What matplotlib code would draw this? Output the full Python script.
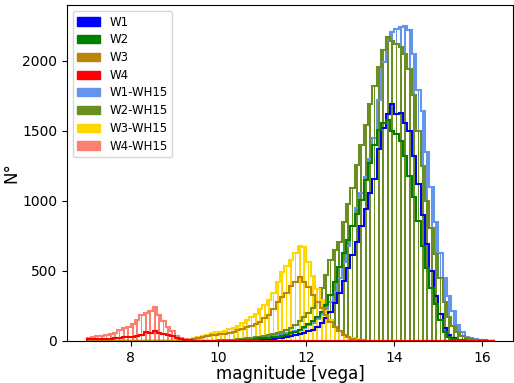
import matplotlib
matplotlib.use('Agg')
import matplotlib.pyplot as plt
from matplotlib.patches import Patch
import numpy as np

# common binning (0.1 mag bins from 7.0 to 16.3)
bin_lo, bin_hi, bin_w = 7.0, 16.3, 0.1

# counts per bin, each list starts at the given magnitude
w1_start = 10.7
w1 = [2, 4, 6, 8, 10, 13, 17, 22, 28, 35, 42, 50, 58, 68, 80, 100, 125, 160, 205,
      270, 345, 430, 520, 610, 710, 820, 940, 1060, 1160, 1370, 1520, 1620, 1690,
      1620, 1630, 1560, 1500, 1320, 1120, 900, 690, 500, 320, 190, 90, 40, 18, 8, 4]

w2_start = 10.4
w2 = [2, 4, 6, 9, 13, 17, 20, 23, 26, 30, 36, 44, 54, 65, 80, 98, 118, 140, 170,
      205, 255, 330, 420, 530, 630, 720, 820, 910, 1010, 1150, 1270, 1400, 1510,
      1560, 1580, 1500, 1475, 1430, 1320, 1180, 1030, 860, 680, 520, 380, 260, 150,
      65, 30, 16, 8, 4]

w3_start = 9.3
w3 = [5, 10, 18, 25, 32, 40, 45, 48, 52, 56, 65, 76, 85, 97, 108, 122, 138, 160,
      185, 230, 280, 315, 345, 390, 420, 455, 420, 385, 330, 280, 235, 186, 135,
      100, 68, 45, 28, 16, 8, 4, 2]

w4_start = 7.0
w4 = [10, 11, 12, 13, 14, 16, 19, 22, 25, 28, 31, 34, 40, 60, 55, 72, 55, 48, 40,
      32, 24, 14, 7, 3, 1]

w1h_start = 10.4
w1h = [3, 5, 7, 10, 13, 17, 21, 26, 32, 40, 47, 53, 60, 67, 80, 95, 110, 128, 155,
       190, 225, 280, 350, 450, 560, 680, 820, 950, 1060, 1170, 1300, 1450, 1720,
       1990, 2150, 2210, 2230, 2240, 2250, 2220, 2050, 1790, 1640, 1350, 1100, 850,
       630, 450, 320, 210, 115, 60, 30, 18, 10, 6, 3, 1]

w2h_start = 10.0
w2h = [3, 4, 6, 8, 10, 13, 17, 21, 26, 31, 36, 42, 48, 55, 65, 78, 95, 115, 140,
       170, 200, 235, 275, 380, 470, 580, 650, 710, 850, 980, 1090, 1260, 1400,
       1540, 1690, 1820, 1960, 2080, 2170, 2140, 2120, 2100, 2050, 1940, 1760, 1500,
       1250, 1000, 810, 620, 450, 280, 170, 105, 65, 38, 22, 13, 9, 6, 4, 2, 1]

w3h_start = 9.2
w3h = [5, 12, 20, 30, 38, 45, 55, 60, 66, 72, 82, 92, 108, 125, 148, 170, 195, 225,
       255, 290, 340, 420, 490, 535, 580, 630, 675, 670, 560, 460, 370, 290, 210,
       150, 100, 68, 45, 30, 18, 10, 5, 2]

w4h_start = 7.0
w4h = [22, 28, 32, 38, 44, 50, 56, 75, 92, 100, 118, 150, 185, 200, 215, 240, 185,
       140, 100, 70, 38, 20, 10, 6, 3]

labels = ['W1', 'W2', 'W3', 'W4', 'W1-WH15', 'W2-WH15', 'W3-WH15', 'W4-WH15']
colors = ['blue', 'green', 'darkgoldenrod', 'red',
          'cornflowerblue', 'olivedrab', 'gold', 'salmon']

edges = np.round(np.arange(bin_lo, bin_hi + bin_w / 2, bin_w), 2)
centers = edges[:-1] + bin_w / 2


def full_counts(start, vals):
    out = np.zeros(len(centers))
    i0 = int(round((start - bin_lo) / bin_w))
    out[i0:i0 + len(vals)] = vals
    return out


series = [full_counts(s, v) for s, v in [(w1_start, w1), (w2_start, w2),
                                        (w3_start, w3), (w4_start, w4),
                                        (w1h_start, w1h), (w2h_start, w2h),
                                        (w3h_start, w3h), (w4h_start, w4h)]]

fig = plt.figure(figsize=(5.14, 3.83), dpi=100)
ax = fig.add_axes([0.130, 0.110, 0.868, 0.877])

# WH15 selections: thin bars + outline
for k in range(4, 8):
    ax.hist(centers, bins=edges, weights=series[k], histtype='bar', rwidth=0.4,
            color=colors[k])
for k in range(4, 8):
    ax.hist(centers, bins=edges, weights=series[k], histtype='step',
            color=colors[k], lw=1.5)
# full samples: outline only
for k in range(0, 4):
    ax.hist(centers, bins=edges, weights=series[k], histtype='step',
            color=colors[k], lw=1.5)

ax.set_xlim(6.55, 16.7)
ax.set_ylim(0, 2400)
ax.set_xticks([8, 10, 12, 14, 16])
ax.set_yticks([0, 500, 1000, 1500, 2000])
ax.set_xlabel('magnitude [vega]', fontsize=12, labelpad=0)
ax.set_ylabel('N°', fontsize=12, labelpad=1)

handles = [Patch(color=c, label=l) for c, l in zip(colors, labels)]
ax.legend(handles=handles, loc='upper left', fontsize=8.5, labelspacing=0.4,
          handlelength=1.9)

fig.savefig('out.png', dpi=100)
